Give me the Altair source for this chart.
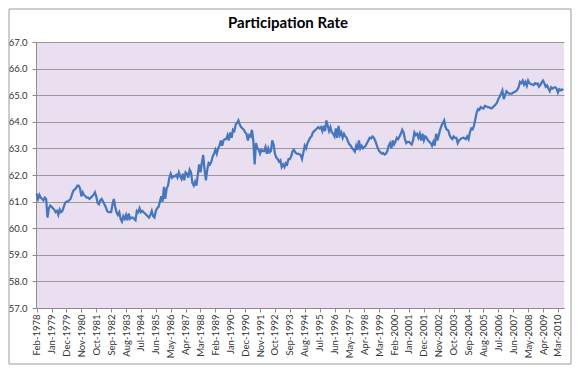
import altair as alt
import pandas as pd

# Monthly participation rate, Feb-1978 .. Jul-2010
y1978 = [61.3, 61.1, 61.25, 61.15, 61.1, 61.05, 61.15, 61.1, 60.4, 60.75, 60.85]
y1979 = [60.8, 60.75, 60.7, 60.6, 60.65, 60.5, 60.7, 60.6, 60.65, 60.8, 60.95, 61.0]
y1980 = [61.0, 61.05, 61.1, 61.25, 61.4, 61.45, 61.5, 61.6, 61.6, 61.5, 61.2, 61.35]
y1981 = [61.25, 61.2, 61.15, 61.15, 61.1, 61.15, 61.2, 61.25, 61.35, 61.2, 60.95, 60.9]
y1982 = [61.05, 61.1, 61.0, 60.9, 60.8, 60.65, 60.6, 60.6, 60.6, 60.9, 61.1, 60.8]
y1983 = [60.6, 60.5, 60.6, 60.35, 60.25, 60.45, 60.35, 60.5, 60.3, 60.55, 60.35, 60.4]
y1984 = [60.4, 60.35, 60.3, 60.65, 60.6, 60.75, 60.6, 60.65, 60.6, 60.55, 60.5, 60.45]
y1985 = [60.4, 60.5, 60.65, 60.45, 60.4, 60.65, 60.75, 60.8, 61.0, 61.2, 61.0, 61.55]
y1986 = [61.1, 61.5, 61.6, 61.9, 62.05, 61.9, 61.95, 61.95, 62.0, 61.9, 62.1, 61.95]
y1987 = [61.85, 62.05, 61.8, 62.1, 62.05, 61.9, 62.2, 62.1, 61.7, 61.6, 61.75, 61.6]
y1988 = [62.0, 62.4, 62.1, 62.45, 62.75, 62.2, 61.8, 62.2, 62.45, 62.4, 62.5, 62.7]
y1989 = [62.8, 62.95, 62.8, 63.0, 63.1, 63.3, 63.1, 63.3, 63.35, 63.35, 63.5, 63.3]
y1990 = [63.6, 63.4, 63.7, 63.65, 63.9, 63.95, 64.05, 63.9, 63.8, 63.75, 63.7, 63.6]
y1991 = [63.55, 63.3, 63.5, 63.45, 63.7, 63.3, 62.4, 63.2, 63.0, 62.95, 62.8, 62.95]
y1992 = [62.9, 62.9, 63.05, 62.8, 63.0, 62.85, 62.9, 63.3, 63.15, 62.8, 62.65, 62.6]
y1993 = [62.5, 62.55, 62.3, 62.4, 62.3, 62.45, 62.4, 62.6, 62.6, 62.7, 62.9, 62.95]
y1994 = [62.85, 62.8, 62.8, 62.78, 62.75, 62.6, 62.85, 63.1, 63.0, 63.2, 63.3, 63.4]
y1995 = [63.45, 63.6, 63.65, 63.7, 63.75, 63.8, 63.75, 63.8, 63.65, 63.85, 63.65, 64.05]
y1996 = [63.85, 63.65, 63.8, 63.6, 63.55, 63.45, 63.75, 63.4, 63.85, 63.5, 63.6, 63.4]
y1997 = [63.55, 63.45, 63.4, 63.25, 63.15, 63.1, 63.0, 62.95, 62.88, 63.1, 62.95, 63.3]
y1998 = [63.0, 63.1, 63.0, 63.05, 63.1, 63.2, 63.3, 63.4, 63.38, 63.45, 63.4, 63.3]
y1999 = [63.15, 63.0, 62.9, 62.85, 62.8, 62.82, 62.77, 62.8, 62.9, 63.1, 63.2, 63.0]
y2000 = [63.3, 63.15, 63.25, 63.4, 63.35, 63.45, 63.55, 63.7, 63.6, 63.35, 63.2, 63.25]
y2001 = [63.25, 63.2, 63.15, 63.3, 63.6, 63.5, 63.55, 63.4, 63.55, 63.3, 63.55, 63.3]
y2002 = [63.45, 63.4, 63.3, 63.25, 63.2, 63.1, 63.25, 63.1, 63.55, 63.3, 63.5, 63.7]
y2003 = [63.85, 63.95, 64.05, 63.8, 63.7, 63.68, 63.5, 63.4, 63.35, 63.45, 63.4, 63.4]
y2004 = [63.2, 63.3, 63.35, 63.38, 63.4, 63.38, 63.35, 63.45, 63.35, 63.6, 63.75, 63.72]
y2005 = [63.85, 64.1, 64.35, 64.48, 64.45, 64.55, 64.52, 64.5, 64.6, 64.58, 64.55, 64.55]
y2006 = [64.52, 64.5, 64.55, 64.6, 64.65, 64.72, 64.85, 64.95, 65.06, 65.18, 64.85, 65.0]
y2007 = [65.15, 65.1, 65.06, 65.06, 65.06, 65.1, 65.12, 65.15, 65.2, 65.3, 65.5, 65.45]
y2008 = [65.55, 65.4, 65.5, 65.35, 65.55, 65.45, 65.42, 65.4, 65.38, 65.45, 65.42, 65.44]
y2009 = [65.32, 65.38, 65.48, 65.55, 65.45, 65.32, 65.37, 65.25, 65.15, 65.3, 65.25, 65.28]
y2010 = [65.3, 65.25, 65.1, 65.22, 65.18, 65.22, 65.18]

rate = (y1978 + y1979 + y1980 + y1981 + y1982 + y1983 + y1984 + y1985 + y1986
        + y1987 + y1988 + y1989 + y1990 + y1991 + y1992 + y1993 + y1994 + y1995
        + y1996 + y1997 + y1998 + y1999 + y2000 + y2001 + y2002 + y2003 + y2004
        + y2005 + y2006 + y2007 + y2008 + y2009 + y2010)

tick_labels = ["Feb-1978", "Jan-1979", "Dec-1979", "Nov-1980", "Oct-1981", "Sep-1982",
               "Aug-1983", "Jul-1984", "Jun-1985", "May-1986", "Apr-1987", "Mar-1988",
               "Feb-1989", "Jan-1990", "Dec-1990", "Nov-1991", "Oct-1992", "Sep-1993",
               "Aug-1994", "Jul-1995", "Jun-1996", "May-1997", "Apr-1998", "Mar-1999",
               "Feb-2000", "Jan-2001", "Dec-2001", "Nov-2002", "Oct-2003", "Sep-2004",
               "Aug-2005", "Jul-2006", "Jun-2007", "May-2008", "Apr-2009", "Mar-2010"]

y_ticks = [57.0, 58.0, 59.0, 60.0, 61.0, 62.0, 63.0, 64.0, 65.0, 66.0, 67.0]

title_text = ["Participation Rate"]

months = list(pd.date_range("1978-02-01", periods=len(rate), freq="MS").strftime("%b-%Y"))
df = pd.DataFrame({"month": months, "rate": rate})

FONT = "Lato"
AXIS_GRAY = "#8c8c8c"

line = alt.Chart(df).mark_line(color="#4677BE", strokeWidth=2.25).encode(
    x=alt.X("month:O", sort=None,
            scale=alt.Scale(type="point", padding=0.5),
            axis=alt.Axis(values=tick_labels, labelAngle=-90, title=None,
                          labelAlign="right", labelBaseline="middle",
                          labelPadding=2, tickSize=4, tickColor=AXIS_GRAY,
                          domainColor=AXIS_GRAY, labelFont=FONT, labelFontSize=9.5,
                          labelColor="#333333", grid=False, labelOverlap=False)),
    y=alt.Y("rate:Q",
            scale=alt.Scale(domain=[57, 67], nice=False, zero=False),
            axis=alt.Axis(values=y_ticks, format=".1f", title=None, grid=True,
                          gridColor="#9a9a9a", gridWidth=1, tickSize=4,
                          tickColor=AXIS_GRAY, domainColor=AXIS_GRAY,
                          labelPadding=5, labelFont=FONT, labelFontSize=9.5,
                          labelColor="#333333")),
)

frame = alt.Chart(pd.DataFrame({"a": [0]})).mark_rect(
    fillOpacity=0, stroke="#9a9a9a", strokeWidth=1
).encode(x=alt.value(-27), x2=alt.value(535), y=alt.value(-33), y2=alt.value(322))

title = alt.Chart(pd.DataFrame({"t": title_text})).mark_text(
    font=FONT, fontSize=15, fontWeight="bold", color="#000000",
    align="center", baseline="alphabetic"
).encode(text="t:N", x=alt.value(252), y=alt.value(-14))

chart = alt.layer(frame, line, title).properties(
    width=528, height=266,
    autosize=alt.AutoSizeParams(type="none"),
    padding={"left": 28, "top": 34, "right": 8, "bottom": 57},
    background="white",
).configure_view(fill="#EADFF0", strokeWidth=0)

chart.save("out.html", embed_options={"renderer": "svg", "actions": False})
